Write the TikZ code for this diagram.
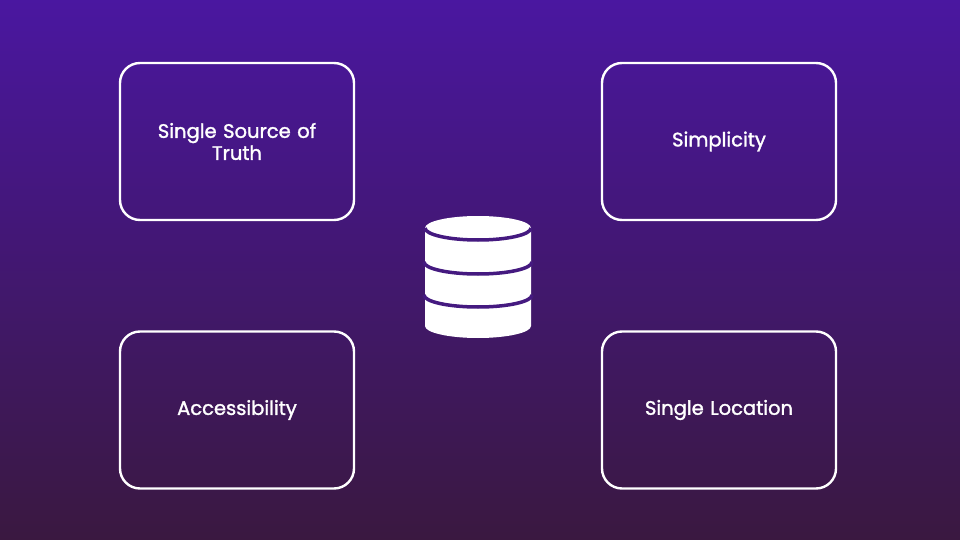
\documentclass[tikz,border=0pt]{standalone}
\usepackage{fontspec}
\setmainfont{Poppins}[FakeBold=1.5]
\begin{document}
\begin{tikzpicture}[x=1pt,y=-1pt,
  card/.style={draw=white,line width=2.4pt,rounded corners=20pt,minimum width=234pt,minimum height=157pt,text=white,font=\fontsize{19.5}{22}\selectfont,align=center,text width=210pt},
  band/.style={draw=dbg,line width=3.5pt}]
\definecolor{bgtop}{HTML}{4A17A0}
\definecolor{bgbot}{HTML}{3A1840}
\definecolor{dbg}{HTML}{451A80}
\shade[top color=bgtop,bottom color=bgbot] (0,0) rectangle (960,540);
\useasboundingbox (0,0) rectangle (960,540);
\node[card] (a) at (237,141.5) {Single Source of\\Truth};
\node[card] (b) at (719,141.5) {Simplicity};
\node[card] (c) at (237,410) {Accessibility};
\node[card] (d) at (719,410) {Single Location};
% database icon
\fill[white] (425,228) -- (425,326) arc[start angle=180,end angle=0,x radius=53,y radius=12] -- (531,228) arc[start angle=0,end angle=-180,x radius=53,y radius=12] -- cycle;
\draw[band] (425,228) arc[start angle=180,end angle=0,x radius=53,y radius=12];
\draw[band] (424,262) arc[start angle=180,end angle=0,x radius=54,y radius=12];
\draw[band] (424,295) arc[start angle=180,end angle=0,x radius=54,y radius=12];
\end{tikzpicture}
\end{document}
